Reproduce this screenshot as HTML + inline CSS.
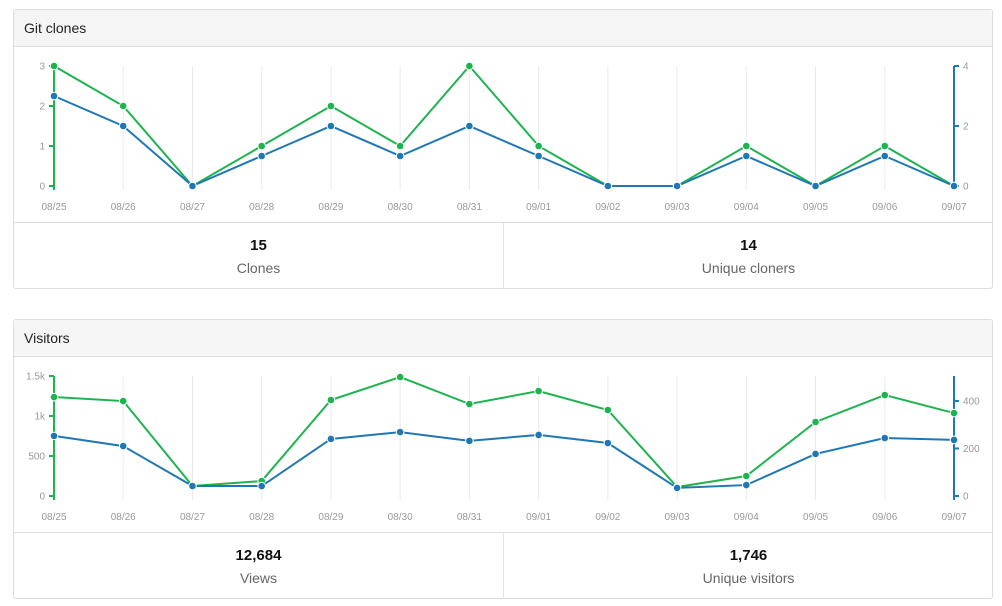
<!DOCTYPE html>
<html><head><meta charset="utf-8"><style>
body{margin:0;background:#fff;font-family:"Liberation Sans","DejaVu Sans",sans-serif;width:1002px;height:606px;overflow:hidden;position:relative}
.panel{position:absolute;left:13px;width:978px;height:278px;border:1px solid #ddd;border-radius:3px;background:#fff}
.hdr{height:36px;background:#f5f5f5;border-bottom:1px solid #ddd;font-size:14px;color:#222;line-height:37px;padding-left:10px}
.chart{position:absolute;left:-14px;top:37px}
.stats{position:absolute;left:0;top:212px;width:978px;height:66px;border-top:1px solid #ddd}
.stat{position:absolute;top:0;width:489px;height:66px;text-align:center}
.stat .n{font-weight:bold;font-size:15px;color:#111;margin-top:14px}
.stat .l{font-size:14px;color:#666;margin-top:6px}
</style></head><body>
<div class="panel" style="top:9px">
 <div class="hdr">Git clones</div>
 <svg class="chart" id="c1" width="1002" height="176"></svg>
 <div class="stats">
  <div class="stat" style="left:0"><div class="n">15</div><div class="l">Clones</div></div>
  <div class="stat" style="left:489px;border-left:1px solid #e5e5e5"><div class="n">14</div><div class="l">Unique cloners</div></div>
 </div>
</div>
<div class="panel" style="top:319px">
 <div class="hdr">Visitors</div>
 <svg class="chart" id="c2" width="1002" height="176"></svg>
 <div class="stats">
  <div class="stat" style="left:0"><div class="n">12,684</div><div class="l">Views</div></div>
  <div class="stat" style="left:489px;border-left:1px solid #e5e5e5"><div class="n">1,746</div><div class="l">Unique visitors</div></div>
 </div>
</div>
<script>
const dates=["08/25","08/26","08/27","08/28","08/29","08/30","08/31","09/01","09/02","09/03","09/04","09/05","09/06","09/07"];
const clones=[3,2,0,1,2,1,3,1,0,0,1,0,1,0];
const cloners=[3,2,0,1,2,1,2,1,0,0,1,0,1,0];
const clonesTicks=[0,1,2,3];
const clonersTicks=[0,2,4];
const views=[1237,1187,125,187,1200,1487,1150,1312,1075,112,250,925,1262,1037];
const visitors=[253,210,42,42,240,269,232,257,223,34,46,177,244,236];
const viewsTicks=[0,500,1000,1500];
const viewsTickLabels=["0","500","1k","1.5k"];
const visitorsTicks=[0,200,400];
const visitorsTickLabels=["0","200","400"];
const NS="http://www.w3.org/2000/svg";
function mk(svg,tag,attrs){const e=document.createElementNS(NS,tag);for(const k in attrs)e.setAttribute(k,attrs[k]);svg.appendChild(e);return e;}
function draw(id,g,b,lMax,rMax,lT,lL,rT,rL){
 const svg=document.getElementById(id);
 const x0=54,x1=954,yTop=19,yBot=139;
 const xs=i=>x0+(x1-x0)*i/(dates.length-1);
 const yl=v=>yBot-(yBot-yTop)*v/lMax;
 const yr=v=>yBot-(yBot-yTop)*v/rMax;
 dates.forEach((d,i)=>{
  const l=mk(svg,'line',{x1:xs(i),x2:xs(i),y1:yTop,y2:yBot+4,stroke:'#eaeaea','stroke-width':1});
  
  
  const t=mk(svg,'text',{x:xs(i),y:yBot+24,'text-anchor':'middle','font-size':10,fill:'#999'});
  t.textContent=d;
  
  
 });
 const la=mk(svg,'line',{x1:x0,x2:x0,y1:yTop,y2:yBot+4,stroke:'#1db34f','stroke-width':2});
 
 
 lT.forEach((v,i)=>{
  mk(svg,'line',{x1:x0-5,x2:x0,y1:yl(v),y2:yl(v),stroke:'#1db34f','stroke-width':2});
  const t=mk(svg,'text',{x:x0-9,y:yl(v)+3.5,'text-anchor':'end','font-size':10,fill:'#999'});
  t.textContent=lL[i];
  
  
 });
 const ra=mk(svg,'line',{x1:x1,x2:x1,y1:yTop,y2:yBot+4,stroke:'#1f77b4','stroke-width':2});
 
 
 rT.forEach((v,i)=>{
  mk(svg,'line',{x1:x1,x2:x1+5,y1:yr(v),y2:yr(v),stroke:'#1f77b4','stroke-width':2});
  const t=mk(svg,'text',{x:x1+9,y:yr(v)+3.5,'text-anchor':'start','font-size':10,fill:'#999'});
  t.textContent=rL[i];
  
  
 });
 [[g,yl,'#1db34f','green-series'],[b,yr,'#1f77b4','blue-series']].forEach(([arr,ys,c,n])=>{
  const p=mk(svg,'polyline',{points:arr.map((v,i)=>xs(i)+','+ys(v)).join(' '),fill:'none',stroke:c,'stroke-width':2});
  
  
  arr.forEach((v,i)=>{
   const ci=mk(svg,'circle',{cx:xs(i),cy:ys(v),r:3.8,fill:c,stroke:'#fff','stroke-width':1});
   
   
  });
 });
}
draw('c1',clones,cloners,3,4,clonesTicks,clonesTicks.map(String),clonersTicks,clonersTicks.map(String));
draw('c2',views,visitors,1500,505,viewsTicks,viewsTickLabels,visitorsTicks,visitorsTickLabels);
</script>
</body></html>
